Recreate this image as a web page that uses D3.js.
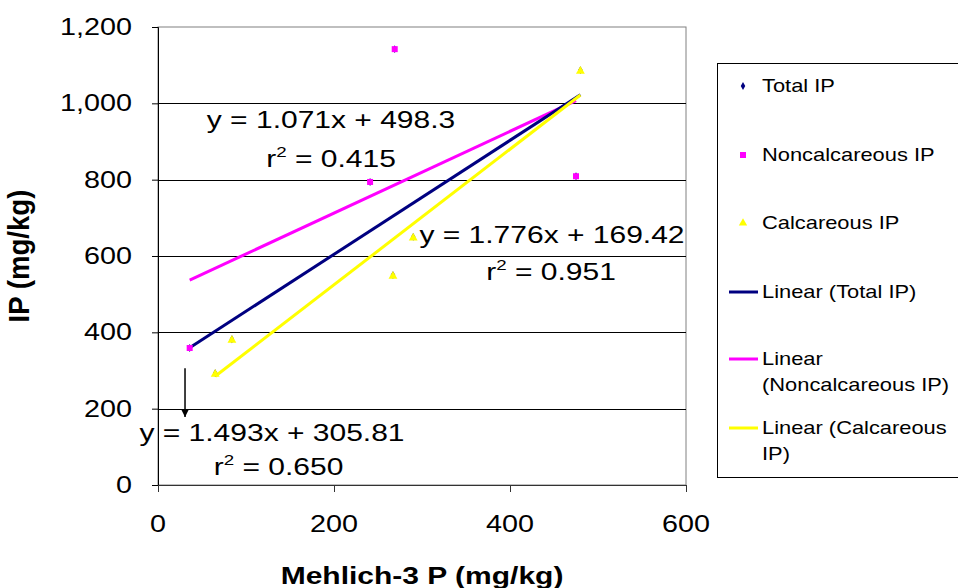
<!DOCTYPE html>
<html><head><meta charset="utf-8">
<script src="https://cdn.jsdelivr.net/npm/d3@7"></script>
<style>body{margin:0;background:#fff}svg{display:block}text{font-family:Arial,"Liberation Sans",sans-serif}</style>
</head><body><svg id="c" width="958" height="588"></svg>
<script>
// ---- data ----
const nonCalcX = [36, 241, 269, 475];
const nonCalcY = [359, 794, 1142, 809];
const calcX = [65, 84, 267, 290, 480];
const calcY = [293, 382, 550, 650, 1087];
const totalX = nonCalcX.concat(calcX);
const totalY = nonCalcY.concat(calcY);
const trendNames = ["Total IP", "Noncalcareous IP", "Calcareous IP"];
const trendSlopes = [1.493, 1.071, 1.776];
const trendIntercepts = [305.81, 498.3, 169.42];
const trendR2 = ["0.650", "0.415", "0.951"];
const xTicks = [0, 200, 400, 600];
const yTicks = [0, 200, 400, 600, 800, 1000, 1200];
const legendLabels = [["Total IP"], ["Noncalcareous IP"], ["Calcareous IP"], ["Linear (Total IP)"], ["Linear", "(Noncalcareous IP)"], ["Linear (Calcareous", "IP)"]];

const colors = {total: "#000080", non: "#FF00FF", calc: "#FFFF00"};
const SX = 1.25; // horizontal stretch of text
const svg = d3.select("#c");
const x = d3.scaleLinear().domain([0, 600]).range([158, 686]);
const y = d3.scaleLinear().domain([0, 1200]).range([485, 27]);

function stext(g, px, py, str, opts) {
  opts = opts || {};
  const gg = g.append("g").attr("transform", `translate(${px},${py})`);
  const t = gg.append("text").attr("transform", `scale(${opts.sx || SX},1)`)
    .attr("text-anchor", opts.anchor || "middle")
    .attr("font-size", opts.size || 24)
    .attr("font-weight", opts.weight || "normal")
    .attr("fill", "#000");
  if (opts.dy) t.attr("dy", opts.dy);
  return t.text(str);
}

// plot border
svg.append("rect").attr("x", x(0)).attr("y", y(1200)).attr("width", x(600) - x(0)).attr("height", y(0) - y(1200))
  .attr("fill", "none").attr("stroke", "#808080").attr("stroke-width", 1);
// gridlines
svg.append("g").selectAll("line").data(yTicks.filter(d => d > 0 && d < 1200)).join("line")
  .attr("x1", x(0)).attr("x2", x(600)).attr("y1", d => Math.round(y(d)) + 0.5).attr("y2", d => Math.round(y(d)) + 0.5)
  .attr("stroke", "#000").attr("stroke-width", 1);

// axes
const ya = svg.append("g").attr("transform", `translate(${x(0)},0)`)
  .call(d3.axisLeft(y).tickValues(yTicks).tickSize(6).tickFormat(() => ""));
ya.select(".domain").attr("stroke", "#000");
const xa = svg.append("g").attr("transform", `translate(0,${y(0)})`)
  .call(d3.axisBottom(x).tickValues(xTicks).tickSize(7).tickFormat(() => ""));
xa.selectAll("line,path").attr("stroke", "#333");

const fmt = d3.format(",");
yTicks.forEach(v => stext(svg, 132, y(v) + 8, fmt(v), {anchor: "end", size: 23}));
xTicks.forEach(v => stext(svg, x(v), 532, fmt(v), {size: 23}));

// axis titles
stext(svg, 422, 584, "Mehlich-3 P (mg/kg)", {weight: "bold", size: 24});
svg.append("text").attr("transform", `translate(29,${y(600)}) rotate(-90) scale(1.15,1.2)`)
  .attr("text-anchor", "middle").attr("font-size", 24).attr("font-weight", "bold").text("IP (mg/kg)");

// trend lines
const allX = [totalX, nonCalcX, calcX];
const lineCols = [colors.total, colors.non, colors.calc];
const trendData = trendSlopes.map((m, i) => {
  const xs = d3.extent(allX[i]);
  return xs.map(v => [v, m * v + trendIntercepts[i]]);
});
const line = d3.line().x(d => x(d[0])).y(d => y(d[1]));
// draw order: magenta, navy, yellow
[1, 0, 2].forEach(i => {
  svg.append("path").attr("d", line(trendData[i])).attr("fill", "none")
    .attr("stroke", lineCols[i]).attr("stroke-width", 3);
});

// markers
const sym = (type, size) => d3.symbol().type(type).size(size)();
svg.append("g").selectAll("path").data(d3.zip(totalX, totalY)).join("path")
  .attr("d", sym(d3.symbolDiamond, 18))
  .attr("transform", d => `translate(${x(d[0])},${y(d[1])})`).attr("fill", colors.total);
svg.append("g").selectAll("path").data(d3.zip(nonCalcX, nonCalcY)).join("path")
  .attr("d", sym(d3.symbolSquare, 36))
  .attr("transform", d => `translate(${x(d[0])},${y(d[1])})`).attr("fill", colors.non);
svg.append("g").selectAll("path").data(d3.zip(calcX, calcY)).join("path")
  .attr("d", sym(d3.symbolTriangle, 34))
  .attr("transform", d => `translate(${x(d[0])},${y(d[1]) + 1})`).attr("fill", colors.calc);

// equation labels (anchor positions in data units)
const eqPos = [[129.5, 115, 137, 26], [196.6, 935, 196.6, 833], [447.7, 634, 446.6, 537]];
trendSlopes.forEach((m, i) => {
  const p = eqPos[i];
  stext(svg, x(p[0]), y(p[1]), `y = ${m}x + ${trendIntercepts[i]}`, {size: 24});
  const t = stext(svg, x(p[2]), y(p[3]), "", {size: 24});
  t.append("tspan").text("r");
  t.append("tspan").attr("dy", -10).attr("font-size", 15).text("2");
  t.append("tspan").attr("dy", 10).text(" = " + trendR2[i]);
});

// arrow
svg.append("defs").append("marker").attr("id", "ah").attr("viewBox", "0 0 10 10")
  .attr("refX", 10).attr("refY", 5).attr("markerWidth", 5).attr("markerHeight", 5).attr("orient", "auto")
  .append("path").attr("d", "M0,0L10,5L0,10z").attr("fill", "#000");
svg.append("line").attr("x1", x(30.7)).attr("x2", x(30.7)).attr("y1", y(306)).attr("y2", y(178))
  .attr("stroke", "#000").attr("stroke-width", 1.5).attr("marker-end", "url(#ah)");

// legend
const lg = svg.append("g");
lg.append("rect").attr("x", 717.5).attr("y", 63.5).attr("width", 260).attr("height", 414)
  .attr("fill", "#fff").attr("stroke", "#000");
const rowY = [86, 155, 223, 292, 359, 428];
const legendSym = [["m", d3.symbolDiamond, colors.total, 18], ["m", d3.symbolSquare, colors.non, 36], ["m", d3.symbolTriangle, colors.calc, 30],
  ["l", null, colors.total], ["l", null, colors.non], ["l", null, colors.calc]];
legendLabels.forEach((lab, i) => {
  const s = legendSym[i];
  if (s[0] === "m") {
    lg.append("path").attr("d", sym(s[1], s[3])).attr("transform", `translate(743,${rowY[i]})`).attr("fill", s[2]);
  } else {
    lg.append("line").attr("x1", 729).attr("x2", 758).attr("y1", rowY[i]).attr("y2", rowY[i]).attr("stroke", s[2]).attr("stroke-width", 3);
  }
  lab.forEach((l, j) => stext(lg, 762, rowY[i] + 6 + j * 26, l, {anchor: "start", size: 17.5}));
});
</script></body></html>
